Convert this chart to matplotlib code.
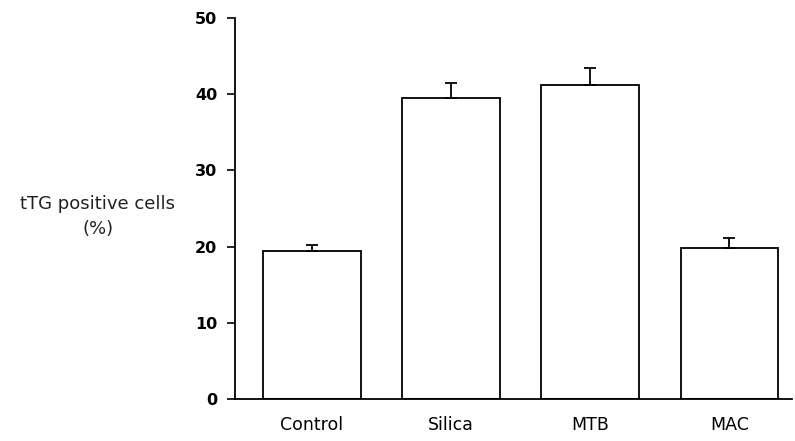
import matplotlib
matplotlib.use("Agg")
import matplotlib.pyplot as plt

categories = ["Control", "Silica", "MTB", "MAC"]
values = [19.4, 39.5, 41.2, 19.8]
errors = [0.8, 2.0, 2.3, 1.3]
yticks = [0, 10, 20, 30, 40, 50]

plt.rcParams['font.family'] = ['DejaVu Sans']

fig = plt.figure(figsize=(7.95, 4.41), dpi=100)
ax = fig.add_axes([0.296, 0.095, 0.70, 0.864])

x = list(range(len(categories)))
ax.bar(x, values, width=0.7, color="white", edgecolor="black", linewidth=1.3)
ax.errorbar(x, values, yerr=[[0]*len(errors), errors], fmt="none",
            ecolor="black", elinewidth=1.3, capsize=4, capthick=1.3)

ax.set_xlim(-0.55, 3.45)
ax.set_ylim(0, 50)
ax.set_yticks(yticks)
ax.set_yticklabels([str(t) for t in yticks], fontsize=11.5, fontweight="bold")
ax.set_xticks(x)
ax.set_xticklabels(categories, fontsize=12.5)
ax.tick_params(axis="x", length=0, pad=12)
ax.tick_params(axis="y", length=6, width=1.2, direction="out", pad=7)
for s in ["top", "right"]:
    ax.spines[s].set_visible(False)
ax.spines["left"].set_linewidth(1.3)
ax.spines["bottom"].set_linewidth(1.3)

fig.text(0.123, 0.51, "tTG positive cells\n(%)", ha="center", va="center",
         fontsize=13, color="#222222", linespacing=1.5)

fig.savefig("out.png", dpi=100)
